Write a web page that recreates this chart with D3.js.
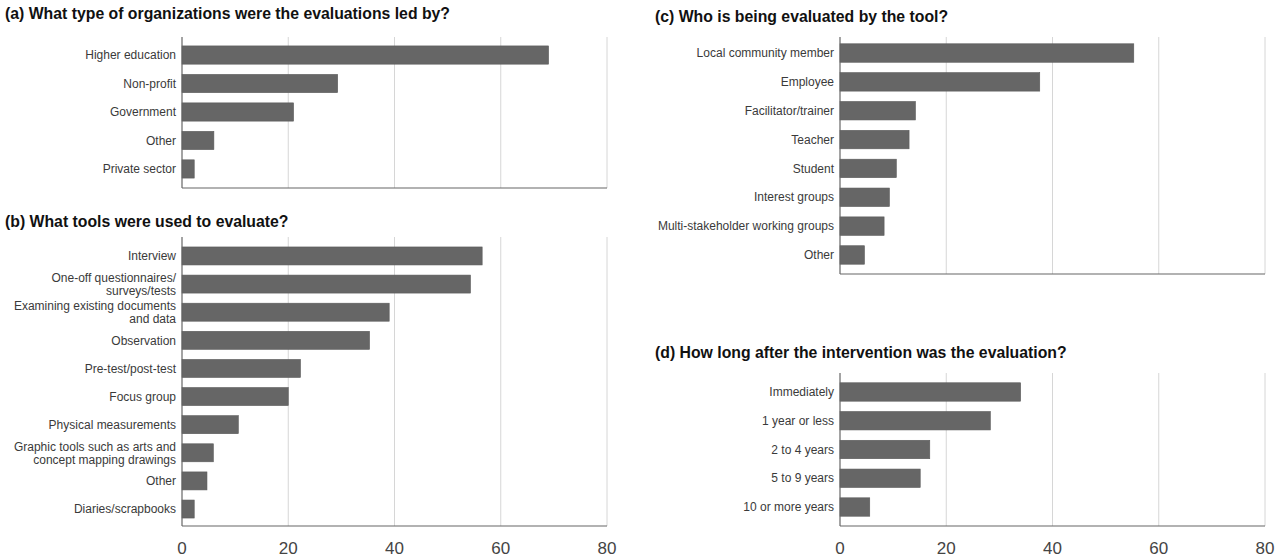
<!DOCTYPE html>
<html>
<head>
<meta charset="utf-8">
<script src="https://cdn.jsdelivr.net/npm/d3@7"></script>
<style>
  body { margin: 0; background: #fff; }
  svg { font-family: "Liberation Sans", Arial, sans-serif; }
  .title { font-weight: bold; font-size: 15.8px; fill: #111; }
  .cat { font-size: 12px; fill: #3a3a3a; }
  .tick-label { font-size: 17px; fill: #444; }
  .grid { stroke: #d6d6d6; stroke-width: 1; }
  .axis-line { stroke: #666; stroke-width: 1.2; }
  .bar { fill: #666; stroke: #5a5a5a; stroke-width: 0.6; }
</style>
</head>
<body>
<svg width="1277" height="558"></svg>
<script>
// (a) organisations
const orgCats = ["Higher education", "Non-profit", "Government", "Other", "Private sector"];
const orgVals = [69, 29.3, 21, 6, 2.3];

// (b) tools
const toolCats = ["Interview", "One-off questionnaires/\nsurveys/tests", "Examining existing documents\nand data",
  "Observation", "Pre-test/post-test", "Focus group", "Physical measurements",
  "Graphic tools such as arts and\nconcept mapping drawings", "Other", "Diaries/scrapbooks"];
const toolVals = [56.5, 54.3, 39, 35.3, 22.3, 20, 10.6, 5.9, 4.7, 2.3];

// (c) who is evaluated
const whoCats = ["Local community member", "Employee", "Facilitator/trainer", "Teacher", "Student",
  "Interest groups", "Multi-stakeholder working groups", "Other"];
const whoVals = [55.3, 37.6, 14.2, 13, 10.6, 9.3, 8.3, 4.6];

// (d) time after intervention
const whenCats = ["Immediately", "1 year or less", "2 to 4 years", "5 to 9 years", "10 or more years"];
const whenVals = [34, 28.3, 16.9, 15.1, 5.6];

const xTicks = [0, 20, 40, 60, 80];

const svg = d3.select("svg");

const panels = [
  { title: "(a) What type of organizations were the evaluations led by?", cats: orgCats, vals: orgVals,
    tx: 5, ty: 19, x0: 182, x1: 607, gTop: 37, gBot: 188, yr: [40.8, 183.2], labels: false },
  { title: "(b) What tools were used to evaluate?", cats: toolCats, vals: toolVals,
    tx: 5, ty: 227, x0: 182, x1: 607, gTop: 237, gBot: 526, yr: [241.9, 523.1], labels: true },
  { title: "(c) Who is being evaluated by the tool?", cats: whoCats, vals: whoVals,
    tx: 655, ty: 22, x0: 840, x1: 1265, gTop: 37, gBot: 274, yr: [38.6, 269.4], labels: false },
  { title: "(d) How long after the intervention was the evaluation?", cats: whenCats, vals: whenVals,
    tx: 655, ty: 358, x0: 840, x1: 1265, gTop: 373, gBot: 526, yr: [377.6, 521.4], labels: true }
];

panels.forEach(p => {
  const g = svg.append("g");
  const x = d3.scaleLinear().domain([0, 80]).range([p.x0, p.x1]);
  const y = d3.scaleBand().domain(p.cats).range(p.yr).paddingInner(0.36).paddingOuter(0.18);

  g.append("text").attr("class", "title").attr("x", p.tx).attr("y", p.ty).text(p.title);

  // gridlines
  g.selectAll(".grid").data(xTicks.slice(1)).enter().append("line")
    .attr("class", "grid")
    .attr("x1", d => x(d)).attr("x2", d => x(d))
    .attr("y1", p.gTop).attr("y2", p.gBot);

  // bars
  g.selectAll(".bar").data(p.cats).enter().append("rect")
    .attr("class", "bar")
    .attr("x", x(0))
    .attr("y", d => y(d))
    .attr("width", (d, i) => x(p.vals[i]) - x(0))
    .attr("height", y.bandwidth());

  // category labels; two-line ones get one text per line
  g.selectAll(".catgroup").data(p.cats).enter().append("g")
    .each(function(d) {
      const lines = d.split("\n");
      const cy = y(d) + y.bandwidth() / 2;
      const gap = 13;
      lines.forEach((l, k) => {
        d3.select(this).append("text")
          .attr("class", "cat")
          .attr("text-anchor", "end")
          .attr("x", x(0) - 6)
          .attr("y", cy + (k - (lines.length - 1) / 2) * gap)
          .attr("dy", "0.35em")
          .text(l);
      });
    });

  // axis lines
  g.append("line").attr("class", "axis-line")
    .attr("x1", x(0)).attr("x2", x(0)).attr("y1", p.gTop).attr("y2", p.gBot);
  g.append("line").attr("class", "axis-line")
    .attr("x1", x(0)).attr("x2", x(80)).attr("y1", p.gBot).attr("y2", p.gBot);

  if (p.labels) {
    g.selectAll(".tick-label").data(xTicks).enter().append("text")
      .attr("class", "tick-label")
      .attr("text-anchor", "middle")
      .attr("x", d => x(d))
      .attr("y", 554)
      .text(d => d);
  }
});
</script>
</body>
</html>
